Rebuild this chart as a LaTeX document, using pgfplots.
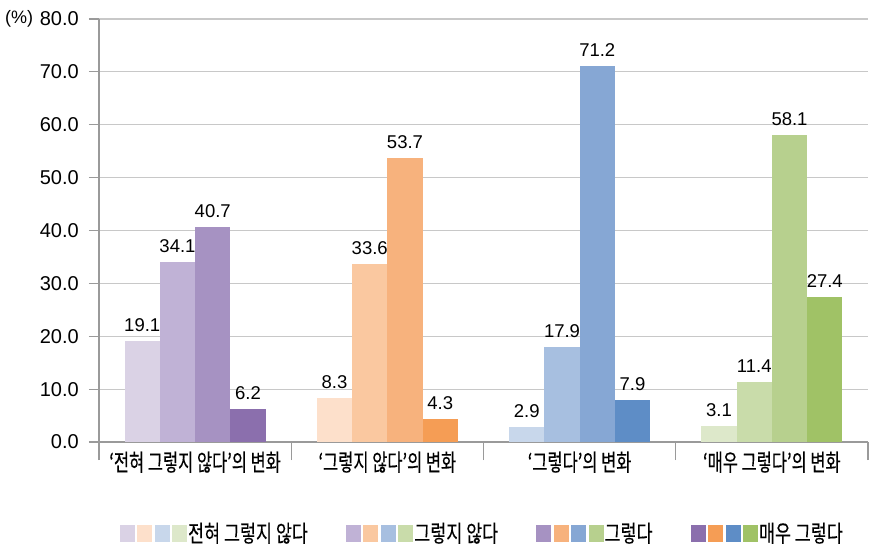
\documentclass[border=0pt]{standalone}
\usepackage{fontspec}
\setmainfont{Liberation Sans}
\newfontfamily\kr{Noto Sans CJK KR}[FakeStretch=0.7, FakeBold=0.3]
\newfontfamily\krl{Noto Sans CJK KR}[FakeStretch=0.74, FakeBold=0.15]
\usepackage{pgfplots}
\pgfplotsset{compat=1.18}
\definecolor{axisgray}{HTML}{9A9A9A}
\definecolor{gridgray}{HTML}{C8C8C8}
% purple
\definecolor{pa}{HTML}{DAD2E5}\definecolor{pb}{HTML}{C0B2D6}\definecolor{pc}{HTML}{A692C2}\definecolor{pd}{HTML}{8B6FAD}
% orange
\definecolor{oa}{HTML}{FDE0CB}\definecolor{ob}{HTML}{FAC8A0}\definecolor{oc}{HTML}{F7B27D}\definecolor{od}{HTML}{F59D55}
% blue
\definecolor{ba}{HTML}{C8D7EB}\definecolor{bb}{HTML}{A7BFE0}\definecolor{bc}{HTML}{86A7D4}\definecolor{bd}{HTML}{5E8DC6}
% green
\definecolor{ga}{HTML}{DDE8CA}\definecolor{gb}{HTML}{C9DCAA}\definecolor{gc}{HTML}{B7D08E}\definecolor{gd}{HTML}{A0C266}
\pgfplotsset{
  mybar/.style 2 args={ybar, bar width=35.25bp, bar shift=#2, draw=none, fill=#1, forget plot,
    nodes near coords,
    every node near coord/.append style={font=\fontsize{18.5bp}{22bp}\selectfont, anchor=south, inner sep=0pt, xshift=#2, yshift=9bp, text=black}},
}
\newcommand{\sq}[4]{%
  \fill[#1] (0bp,-8bp) rectangle (14bp,8bp);
  \fill[#2] (17.5bp,-8bp) rectangle (31.5bp,8bp);
  \fill[#3] (35bp,-8bp) rectangle (49bp,8bp);
  \fill[#4] (52.5bp,-8bp) rectangle (66.5bp,8bp);}
\begin{document}
\begin{tikzpicture}
\path[use as bounding box] (-99bp,-106bp) rectangle (785bp,442bp);
\begin{axis}[
  scale only axis, width=769bp, height=423bp,
  xmin=-0.5, xmax=3.5, ymin=0, ymax=80,
  axis lines=left, axis line style={-, draw=axisgray, line width=1.2bp},
  ytick={0,10,...,80}, ymajorgrids, grid style={gridgray, line width=1.2bp},
  tick align=outside,
  major tick length=10bp,
  xtick={0,1,2,3},
  xticklabels={{‘전혀 그렇지 않다’의 변화},{‘그렇지 않다’의 변화},{‘그렇다’의 변화},{‘매우 그렇다’의 변화}},
  xtick style={draw=none},
  extra x ticks={-0.5,0.5,1.5,2.5,3.5},
  extra x tick labels={},
  extra x tick style={major tick length=18bp, xtick style={draw=axisgray, line width=1.2bp}, grid=none},
  ytick style={draw=axisgray, line width=1.2bp},
  yticklabel style={font=\fontsize{20bp}{24bp}\selectfont, inner xsep=3bp, xshift=-7bp},
  xticklabel style={font=\kr\fontsize{23.5bp}{27bp}\selectfont, text=black, yshift=4bp},
  /pgf/number format/fixed, /pgf/number format/zerofill, /pgf/number format/precision=1,
  /pgf/number format/assume math mode=true,
  legend columns=4,
  legend style={draw=none, fill=none, inner sep=0pt, column sep=0pt,
    at={(0.0267,-0.2151)}, anchor=west,
    font=\krl\fontsize{23.5bp}{27bp}\selectfont,
    nodes={inner sep=1.5bp},
    /tikz/every even column/.append style={column sep=36.5bp}},
]
% level 1: 전혀 그렇지 않다
\addplot[mybar={pa}{-52.875bp}] coordinates {(0,19.1)};
\addplot[mybar={oa}{-52.875bp}] coordinates {(1,8.3)};
\addplot[mybar={ba}{-52.875bp}] coordinates {(2,2.9)};
\addplot[mybar={ga}{-52.875bp}] coordinates {(3,3.1)};
% level 2: 그렇지 않다
\addplot[mybar={pb}{-17.625bp}] coordinates {(0,34.1)};
\addplot[mybar={ob}{-17.625bp}] coordinates {(1,33.6)};
\addplot[mybar={bb}{-17.625bp}] coordinates {(2,17.9)};
\addplot[mybar={gb}{-17.625bp}] coordinates {(3,11.4)};
% level 3: 그렇다
\addplot[mybar={pc}{17.625bp}] coordinates {(0,40.7)};
\addplot[mybar={oc}{17.625bp}] coordinates {(1,53.7)};
\addplot[mybar={bc}{17.625bp}] coordinates {(2,71.2)};
\addplot[mybar={gc}{17.625bp}] coordinates {(3,58.1)};
% level 4: 매우 그렇다
\addplot[mybar={pd}{52.875bp}] coordinates {(0,6.2)};
\addplot[mybar={od}{52.875bp}] coordinates {(1,4.3)};
\addplot[mybar={bd}{52.875bp}] coordinates {(2,7.9)};
\addplot[mybar={gd}{52.875bp}] coordinates {(3,27.4)};
\addlegendimage{legend image code/.code={\sq{pa}{oa}{ba}{ga}}}
\addlegendentry{전혀 그렇지 않다}
\addlegendimage{legend image code/.code={\sq{pb}{ob}{bb}{gb}}}
\addlegendentry{그렇지 않다}
\addlegendimage{legend image code/.code={\sq{pc}{oc}{bc}{gc}}}
\addlegendentry{그렇다}
\addlegendimage{legend image code/.code={\sq{pd}{od}{bd}{gd}}}
\addlegendentry{매우 그렇다}
\end{axis}
\node[anchor=west, inner sep=0pt, font=\fontsize{18bp}{21bp}\selectfont] at (-94bp,423bp) {(\%)};
\end{tikzpicture}
\end{document}
